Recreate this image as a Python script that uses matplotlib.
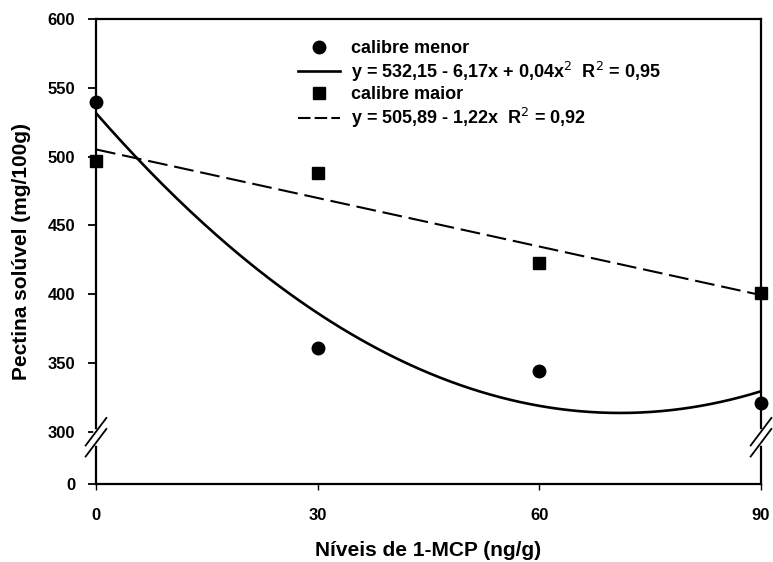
import matplotlib
matplotlib.use("Agg")
import matplotlib.pyplot as plt
from matplotlib.lines import Line2D
import numpy as np

plt.rcParams['font.family'] = ['Liberation Sans', 'DejaVu Sans']

# niveis de 1-MCP (ng/g)
niveis = [0, 30, 60, 90]
menor = [540, 361, 344, 321]   # calibre menor
maior = [497, 488, 423, 401]   # calibre maior

yticks = [300, 350, 400, 450, 500, 550, 600]
fake_zero = 262   # posicao do "0" abaixo da quebra do eixo

fig = plt.figure(figsize=(7.73, 5.62), dpi=100)
ax = fig.add_axes([0.1242, 0.1388, 0.8603, 0.8274])

# ajustes
c2 = np.polyfit(niveis, menor, 2)
c1 = np.polyfit(niveis, maior, 1)
xx = np.linspace(0, 90, 200)

ax.plot(xx, np.polyval(c2, xx), color='black', lw=1.9)
ax.plot(xx, np.polyval(c1, xx), color='black', lw=1.5, dashes=(9.5, 3.3))
ax.plot(niveis, menor, 'o', color='black', ms=9, clip_on=False, zorder=5)
ax.plot(niveis, maior, 's', color='black', ms=8.5, clip_on=False, zorder=5)

ax.set_xlim(0, 90)
ax.set_ylim(fake_zero, 600)
ax.set_xticks(niveis)
ax.set_yticks([fake_zero] + yticks)
ax.set_yticklabels(['0'] + [str(v) for v in yticks])
for lab in ax.get_xticklabels() + ax.get_yticklabels():
    lab.set_fontweight('bold')
    lab.set_fontsize(12)
ax.tick_params(axis='y', direction='out', length=6, width=1.3, pad=9)
ax.tick_params(axis='x', direction='out', length=4, width=1, pad=13)
for s in ax.spines.values():
    s.set_linewidth(1.6)

ax.set_xlabel('Níveis de 1-MCP (ng/g)', fontsize=15, fontweight='bold', labelpad=13)
ax.set_ylabel('Pectina solúvel (mg/100g)', fontsize=15, fontweight='bold', labelpad=12)

# quebra do eixo
yb = 296
for xs in (0, 90):
    ax.plot([xs, xs], [yb - 4, yb + 4], color='white', lw=4, clip_on=False, zorder=6)
    for dy in (-4, 4):
        ax.plot([xs - 1.4, xs + 1.4], [yb + dy - 10, yb + dy + 10], color='black',
                lw=1.3, clip_on=False, zorder=7)

handles = [
    Line2D([], [], ls='none', marker='o', color='black', ms=9),
    Line2D([], [], color='black', lw=1.9),
    Line2D([], [], ls='none', marker='s', color='black', ms=8.5),
    Line2D([], [], color='black', lw=1.5, dashes=(6, 2)),
]
labels = [
    'calibre menor',
    'y = 532,15 - 6,17x + 0,04x$^{2}$  R$^{2}$ = 0,95',
    'calibre maior',
    'y = 505,89 - 1,22x  R$^{2}$ = 0,92',
]
leg = ax.legend(handles, labels, loc='upper left', bbox_to_anchor=(0.28, 0.99),
                frameon=False, fontsize=13, handlelength=2.3, handletextpad=0.6,
                labelspacing=0.15)
for t in leg.get_texts():
    t.set_fontweight('bold')

fig.savefig('out.png', dpi=100)
